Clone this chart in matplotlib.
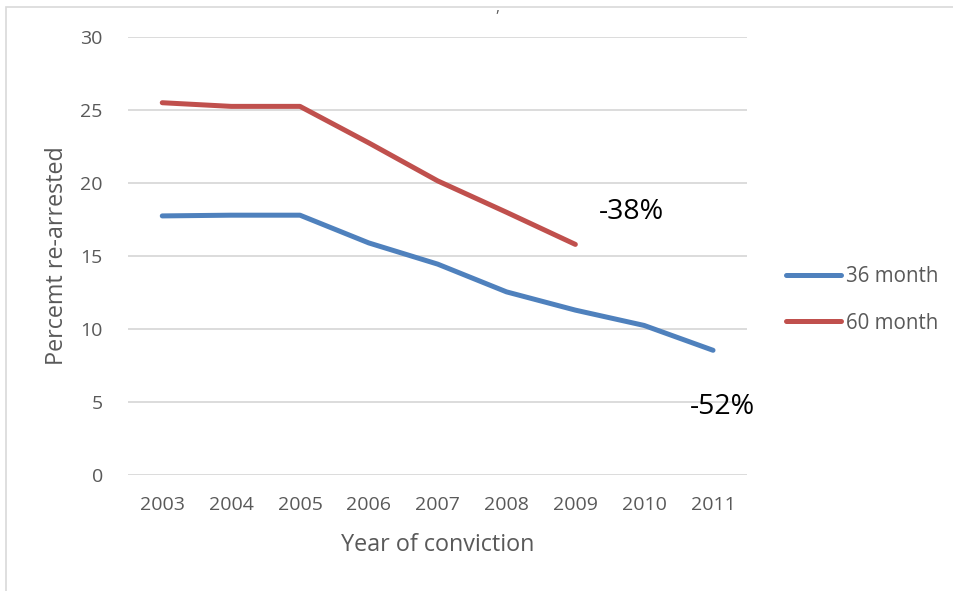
import matplotlib
matplotlib.use("Agg")
import matplotlib.pyplot as plt
from matplotlib.patches import Rectangle

# Datos
years = [2003, 2004, 2005, 2006, 2007, 2008, 2009, 2010, 2011]
month36 = [17.75, 17.8, 17.8, 15.9, 14.45, 12.55, 11.3, 10.25, 8.55]
years60 = [2003, 2004, 2005, 2006, 2007, 2008, 2009]
month60 = [25.5, 25.25, 25.25, 22.75, 20.15, 18.0, 15.8]
labels = ["36 month", "60 month"]
yticks = [0, 5, 10, 15, 20, 25, 30]

gris = "#595959"
plt.rcParams['font.family'] = ['Open Sans', 'DejaVu Sans']

fig = plt.figure(figsize=(9.54, 5.91), dpi=100)
ax = fig.add_axes([0.134, 0.196, 0.6495, 0.7414])

# borde del grafico
fig.patches.append(Rectangle((6 / 954, -0.1), 1.2, 1.1 - 7 / 591, transform=fig.transFigure,
                             fill=False, edgecolor="#D9D9D9", linewidth=1.2))
fig.text(0.521, 0.986, ",", ha="center", va="center", fontsize=11, color=gris)

ax.plot(years, month36, color="#4F81BD", linewidth=3.6, solid_capstyle="round",
        solid_joinstyle="round", label=labels[0])
ax.plot(years60, month60, color="#C0504D", linewidth=3.6, solid_capstyle="round",
        solid_joinstyle="round", label=labels[1])

ax.set_xlim(2002.5, 2011.5)
ax.set_ylim(0, 30)
ax.set_yticks(yticks)
ax.set_xticks(years)
ax.grid(axis="y", color="#D9D9D9", linewidth=1.3)
ax.set_axisbelow(True)
for s in ax.spines.values():
    s.set_visible(False)
ax.tick_params(length=0, labelsize=14, labelcolor=gris)
ax.tick_params(axis="y", pad=18)
ax.tick_params(axis="x", pad=15)

ax.set_xlabel("Year of conviction", fontsize=16.8, color=gris, labelpad=14)
ax.set_ylabel("Percemt re-arrested", fontsize=16.8, color=gris, labelpad=8)

ax.text(2009.82, 18.0, "-38%", fontsize=20.5, ha="center", va="center", color="black")
ax.text(2011.13, 4.66, "-52%", fontsize=20.5, ha="center", va="center", color="black",
        clip_on=False)

leg = ax.legend(loc="center left", bbox_to_anchor=(1.033, 0.40), frameon=False,
                fontsize=14.8, handlelength=2.67, handletextpad=0.25, labelspacing=1.23)
for t in leg.get_texts():
    t.set_color(gris)

plt.savefig("out.png", dpi=100)
